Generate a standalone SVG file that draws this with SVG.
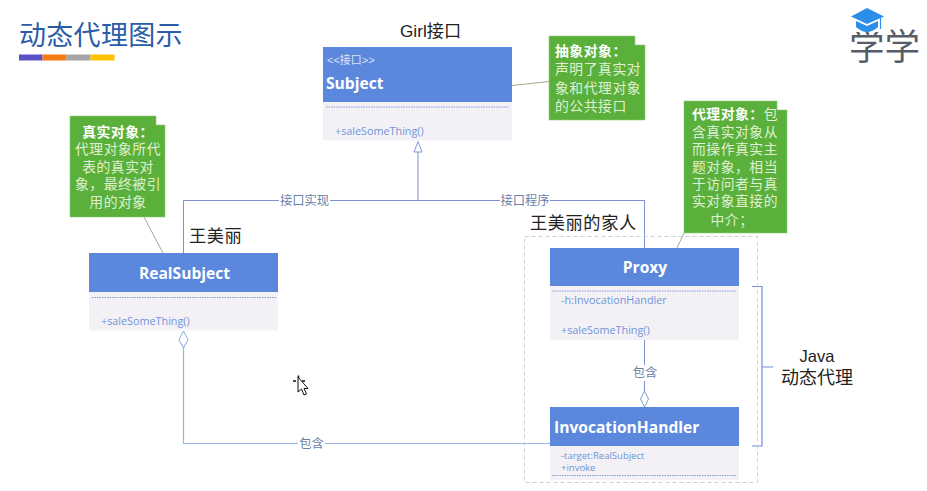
<svg xmlns="http://www.w3.org/2000/svg" width="927" height="491" viewBox="0 0 927 491">
<defs>
<style>
text{font-family:"Liberation Sans","Noto Sans CJK SC",sans-serif}
.head{fill:#5b88dc}
.body{fill:#f3f1f6}
.sep{stroke:#7f9bd6;stroke-width:1;stroke-dasharray:1.5 1;fill:none}
.title{fill:#fff;font-family:"Open Sans","Noto Sans",sans-serif;font-weight:700;font-size:15.6px}
.member{fill:#6f95d8;font-family:"Open Sans","Noto Sans","Noto Sans CJK SC",sans-serif;font-size:10.8px}
.note{fill:#5bb03c;stroke:#8fcf75;stroke-width:.6}
.nt,.nb,.np{font-family:"Liberation Serif","Noto Sans CJK SC",serif;font-size:13.8px;letter-spacing:.55px}
.nt{fill:#dff0d2}
.nb{fill:#fff;font-weight:700}
.cap{fill:#222;font-size:17.2px}
.lbl{fill:#6b7fa8;font-size:12.3px}
.c{fill:none;stroke:#7f8fd0;stroke-width:1}
.cl{fill:none;stroke:#97b5e6;stroke-width:1.2}
.leader{fill:none;stroke:#a8a88a;stroke-width:1}
</style>
</defs>
<rect width="927" height="491" fill="#fff"/>
<g id="header">
<text x="19" y="45" font-size="27" fill="#2a5ca8" letter-spacing=".3">动态代理图示</text>
<rect x="19" y="54.500" width="23.500" height="6" fill="#5a4fc4"/>
<rect x="42.500" y="54.500" width="24" height="6" fill="#f57c14"/>
<rect x="66.500" y="54.500" width="24" height="6" fill="#a5a5a5"/>
<rect x="90.500" y="54.500" width="24" height="6" fill="#ffc000"/>
</g>
<g id="logo">
<text x="849" y="60" font-size="36" fill="#565c68" textLength="71" lengthAdjust="spacingAndGlyphs">学学</text>
<rect x="849" y="8" width="36" height="24" fill="#fff"/>
<path d="M867 8 L884 16.500 L867 24 L851 16.500 Z" fill="#2b8ee8"/>
<path d="M856 21 L867 26 L878 21 V27 Q867 37 856 27 Z" fill="#2b8ee8"/>
<path d="M880.500 18 V29" stroke="#2b8ee8" stroke-width="1.200"/>
</g>
<g id="connectors">
<path class="c" d="M183.500 253V200.500H279M330 200.500H500M550 200.500H644.500V248"/>
<path class="c" d="M418 200V152"/>
<path d="M418 141.500L422 152H414Z" fill="#fff" stroke="#7f9bd6"/>
<path class="cl" d="M183.500 347V443.500H298M325 443.500H550"/>
<path d="M183.500 331L188 339.500L183.500 348L179 339.500Z" fill="#fff" stroke="#86a5dc"/>
<path class="c" d="M644.500 340V365M644.500 381V392" stroke="#7189c8"/>
<path d="M644.500 391L648.500 399L644.500 407L640.500 399Z" fill="#fff" stroke="#7f9bd6"/>
<path class="leader" d="M512 85.500L549 81.500"/>
<path class="leader" d="M144 217L163 253"/>
<path class="leader" d="M684 233L677 248"/>
<path d="M752 286.500H762V367H773M762 367V446H752" fill="none" stroke="#6f8fd8" stroke-width="1.200"/>
<text class="lbl" x="304.500" y="204.500" text-anchor="middle">接口实现</text>
<text class="lbl" x="525" y="204.500" text-anchor="middle">接口程序</text>
<text class="lbl" x="311.500" y="447.500" text-anchor="middle">包含</text>
<text class="lbl" x="645" y="377" text-anchor="middle">包含</text>
</g>
<g id="java-group">
<rect x="524.500" y="236.500" width="233" height="246" fill="none" stroke="#cfcfcf" stroke-dasharray="4 3"/>
<text class="cap" x="530" y="229" letter-spacing=".6">王美丽的家人</text>
<text class="cap" x="817" y="362" text-anchor="middle" style="font-size:16.5px">Java</text>
<text class="cap" x="817" y="384" text-anchor="middle" style="font-size:18px">动态代理</text>
</g>
<g id="subject">
<rect class="body" x="323" y="102" width="189" height="38.500"/>
<rect class="head" x="323" y="47" width="189" height="55"/>
<path class="sep" d="M326 107H509"/>
<text x="327" y="64" font-size="11" fill="#dbe5f7">&lt;&lt;接口&gt;&gt;</text>
<text class="title" x="326" y="89">Subject</text>
<text class="member" x="335" y="135">+saleSomeThing()</text>
<text class="cap" x="400" y="37">Girl接口</text>
</g>
<g id="note-subject">
<path class="note" d="M549 36H635V45H645V120H549Z"/>
<text class="nb" x="555" y="56">抽象对象：</text>
<text class="nt" x="555" y="74">声明了真实对</text>
<text class="nt" x="555" y="93">象和代理对象</text>
<text class="nt" x="555" y="111">的公共接口</text>
</g>
<g id="realsubject">
<rect class="body" x="89" y="292" width="189" height="38.500"/>
<rect class="head" x="89" y="253" width="189" height="39"/>
<path class="sep" d="M92 297.500H276"/>
<text class="title" x="184.500" y="279" text-anchor="middle">RealSubject</text>
<text class="member" x="101" y="325">+saleSomeThing()</text>
<text class="cap" x="189" y="242" letter-spacing=".6">王美丽</text>
</g>
<g id="note-real">
<path class="note" d="M70 116H156V125H165V217H70Z"/>
<text class="nb" x="118" y="137" text-anchor="middle">真实对象：</text>
<text class="nt" x="118" y="154" text-anchor="middle">代理对象所代</text>
<text class="nt" x="118" y="172" text-anchor="middle">表的真实对</text>
<text class="nt" x="118" y="189" text-anchor="middle">象，最终被引</text>
<text class="nt" x="118" y="207" text-anchor="middle">用的对象</text>
</g>
<g id="proxy">
<rect class="body" x="550" y="286" width="189" height="54"/>
<rect class="head" x="550" y="248" width="189" height="38"/>
<path class="sep" d="M552 291H737"/>
<text class="title" x="645" y="273" text-anchor="middle">Proxy</text>
<text class="member" x="561" y="304">-h:InvocationHandler</text>
<text class="member" x="561" y="334">+saleSomeThing()</text>
</g>
<g id="note-proxy">
<path class="note" d="M684 101H777V110H787V233H684Z"/>
<text class="nt" x="735" y="119" text-anchor="middle"><tspan font-weight="700" fill="#fff">代理对象：</tspan>包</text>
<text class="nt" x="735" y="137" text-anchor="middle">含真实对象从</text>
<text class="nt" x="735" y="154" text-anchor="middle">而操作真实主</text>
<text class="nt" x="735" y="172" text-anchor="middle">题对象，相当</text>
<text class="nt" x="735" y="189" text-anchor="middle">于访问者与真</text>
<text class="nt" x="735" y="206" text-anchor="middle">实对象直接的</text>
<text class="nt" x="732" y="225" text-anchor="middle">中介；</text>
</g>
<g id="invocationhandler">
<rect class="body" x="550" y="446" width="189" height="34"/>
<rect class="head" x="550" y="407" width="189" height="39"/>
<path class="sep" d="M552 475.500H737"/>
<text class="title" x="554" y="433">InvocationHandler</text>
<text class="member" x="561" y="459" style="font-size:9.500px">-target:RealSubject</text>
<text class="member" x="561" y="471" style="font-size:9.500px">+invoke</text>
</g>
<g id="cursor">
<path d="M298 377V392L301.500 389L304 395L306.500 394L304 388.500H308Z" fill="#fff" stroke="#111" stroke-width="1"/>
<path d="M293 381H296M302 381H305M298.500 375.500V378" stroke="#111" stroke-width="1.500"/>
</g>
</svg>
